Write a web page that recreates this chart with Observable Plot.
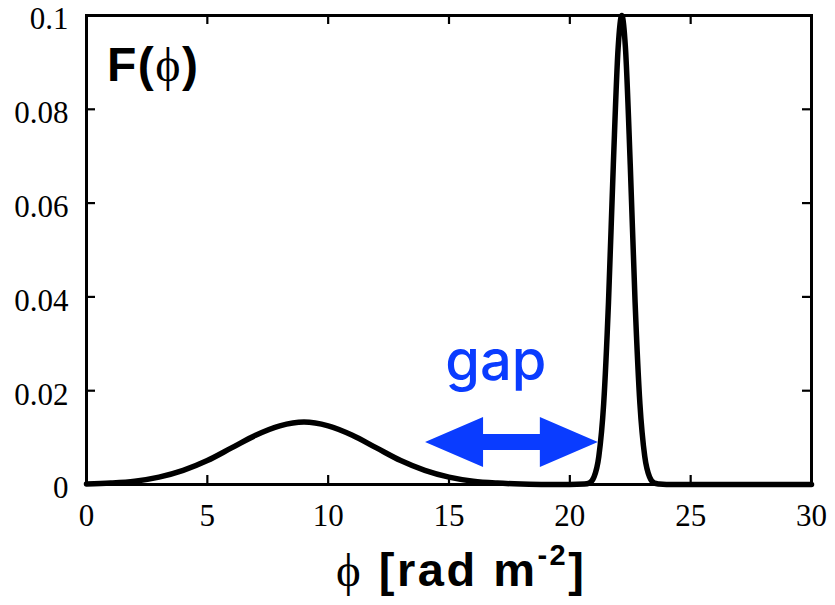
<!DOCTYPE html>
<html>
<head>
<meta charset="utf-8">
<script src="https://cdn.jsdelivr.net/npm/d3@7"></script>
<script src="https://cdn.jsdelivr.net/npm/@observablehq/plot@0.6"></script>
<style>
  html, body { margin: 0; padding: 0; background: #fff; }
  #chart svg { display: block; }
</style>
</head>
<body>
<div id="chart"></div>
<script>
// ---- data ----
const phi = [0, 1, 2, 3, 4, 5, 6, 7, 8, 9, 10, 11, 12, 13, 14, 15, 16, 17, 18, 19, 20,
  20.6, 20.8, 21.0, 21.2, 21.4, 21.6, 21.8, 22.0, 22.15, 22.3, 22.5, 22.7, 22.9, 23.1, 23.3, 23.5, 23.7,
  24, 25, 26, 27, 28, 29, 30];
const F = [0.0001, 0.0003, 0.0007, 0.00156, 0.003, 0.0051, 0.0078, 0.0105, 0.0125, 0.0133, 0.0125, 0.0105, 0.0078, 0.0051, 0.003, 0.00156, 0.0007, 0.0003, 0.0001, 0, 0,
  0.0001, 0.0003, 0.0016, 0.006, 0.0172, 0.0389, 0.0682, 0.0932, 0.1, 0.0932, 0.0682, 0.0389, 0.0172, 0.006, 0.0016, 0.0003, 0.0001,
  0, 0, 0, 0, 0, 0, 0];
const xTicks = [0, 5, 10, 15, 20, 25, 30];
const yTicks = [0, 0.02, 0.04, 0.06, 0.08, 0.1];
const gapArrow = {x1: 14.03, x2: 21.18, y: 0.00896};
const gapLabel = {x: 16.94, y: 0.0262, text: "gap"};
const titleParts = ["F(", "\u03D5", ")"];
const xLabelParts = ["\u03D5", " [rad m", "-2", "]"];

const series = phi.map((p, i) => ({phi: p, F: F[i]}));

const W = 835, H = 605;
const mL = 86, mR = 24, mT = 15, mB = 121;
const plotW = W - mL - mR, plotH = H - mT - mB;
const tickLen = 9;
const sans = "'Liberation Sans', Arial, sans-serif";
const serif = "'Liberation Serif', 'DejaVu Serif', serif";

const chart = Plot.plot({
  width: W, height: H,
  marginLeft: mL, marginRight: mR, marginTop: mT, marginBottom: mB,
  style: {fontFamily: serif, fontSize: "31px", color: "#000", background: "#fff"},
  x: {domain: [0, 30]},
  y: {domain: [0, 0.1]},
  marks: [
    Plot.axisX({ticks: xTicks, tickSize: 0, tickPadding: 19, label: null, tickFormat: d => String(d)}),
    Plot.axisY({ticks: yTicks, tickSize: 0, tickPadding: 18, dy: 4, label: null, tickFormat: d => String(d)}),
    Plot.tickX(xTicks, {x: d => d, insetTop: plotH - tickLen, stroke: "#000", strokeWidth: 2.2}),
    Plot.tickX(xTicks, {x: d => d, insetBottom: plotH - tickLen, stroke: "#000", strokeWidth: 2.2}),
    Plot.tickY(yTicks, {y: d => d, insetRight: plotW - tickLen, stroke: "#000", strokeWidth: 2.2}),
    Plot.tickY(yTicks, {y: d => d, insetLeft: plotW - tickLen, stroke: "#000", strokeWidth: 2.2}),
    Plot.line(series, {x: "phi", y: "F", stroke: "#000", strokeWidth: 5.5, curve: "monotone-x", strokeLinejoin: "round"}),
    Plot.frame({stroke: "#000", strokeWidth: 3}),
    Plot.text([gapLabel], {x: "x", y: "y", text: "text", fill: "#0a3cff", fontSize: 56,
      fontFamily: "Inter, 'Liberation Sans', sans-serif", fontWeight: 500, textAnchor: "middle"})
  ]
});

document.getElementById("chart").appendChild(chart);

const svg = d3.select(chart);
const sx = chart.scale("x"), sy = chart.scale("y");

// double-headed gap arrow
{
  const xa = sx.apply(gapArrow.x1), xb = sx.apply(gapArrow.x2), yc = sy.apply(gapArrow.y);
  const head = 58, hh = 25, sh = 8;
  const path = [
    [xa, yc], [xa + head, yc - hh], [xa + head, yc - sh], [xb - head, yc - sh], [xb - head, yc - hh],
    [xb, yc], [xb - head, yc + hh], [xb - head, yc + sh], [xa + head, yc + sh], [xa + head, yc + hh]
  ];
  svg.append("path").attr("d", "M" + path.map(p => p.join(",")).join("L") + "Z").attr("fill", "#0a3cff");
}

// panel title F(ϕ)
{
  const t = svg.append("text").attr("x", mL + 21).attr("y", mT + 66).attr("font-size", 48)
    .attr("letter-spacing", 1.5).attr("text-anchor", "start").attr("fill", "#000");
  t.append("tspan").attr("font-family", sans).attr("font-weight", "bold").text(titleParts[0]);
  t.append("tspan").attr("font-family", serif).text(titleParts[1]);
  t.append("tspan").attr("font-family", sans).attr("font-weight", "bold").text(titleParts[2]);
}

// x axis label
{
  const t = svg.append("text").attr("x", 336).attr("y", 586).attr("font-size", 47)
    .attr("letter-spacing", 2.5).attr("text-anchor", "start").attr("fill", "#000");
  t.append("tspan").attr("font-family", serif).text(xLabelParts[0]);
  t.append("tspan").attr("font-family", sans).attr("font-weight", "bold").text(xLabelParts[1]);
  t.append("tspan").attr("font-family", sans).attr("font-weight", "bold")
    .attr("font-size", 29).attr("dy", -21).text(xLabelParts[2]);
  t.append("tspan").attr("font-family", sans).attr("font-weight", "bold")
    .attr("dy", 21).text(xLabelParts[3]);
}
</script>
</body>
</html>
